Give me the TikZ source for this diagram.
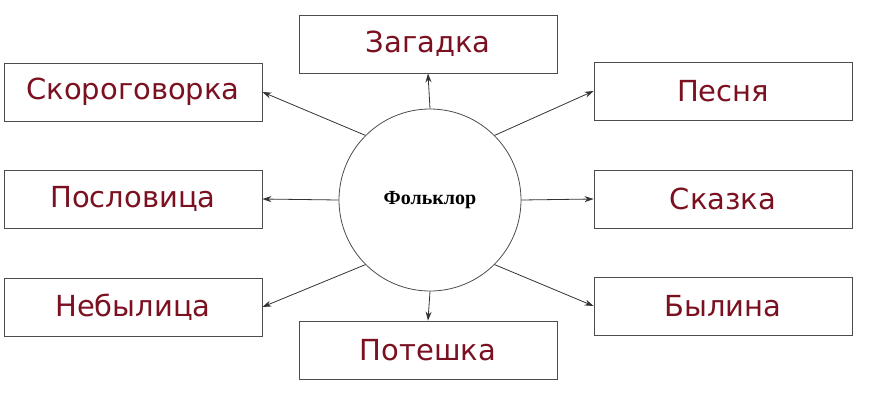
\documentclass[tikz,border=0pt]{standalone}
\usepackage{fontspec}
\setmainfont{DejaVu Sans}
\newfontfamily\serifb{Liberation Serif}
\usetikzlibrary{arrows.meta}
\definecolor{tred}{HTML}{7A1020}
\begin{document}
\begin{tikzpicture}[x=1pt,y=-1pt,
  box/.style={draw=black!70,line width=0.8pt,minimum width=258pt,minimum height=58pt,inner sep=0pt,text=tred,font=\fontsize{29}{32}\selectfont},
  arr/.style={-{Stealth[length=9pt,width=6pt]},line width=0.8pt,draw=black!80}]
\useasboundingbox (0,0) rectangle (878,408);
\node[draw=black!70,line width=0.8pt,circle,minimum size=182pt,inner sep=0pt,font=\serifb\bfseries\fontsize{20}{24}\selectfont] (c) at (430,200) {Фольклор};
\node[box] (z) at (428,44) {Загадка};
\node[box] (s) at (133,92) {Скороговорка};
\node[box] (p) at (723,91) {Песня};
\node[box] (po) at (133,199) {Пословица};
\node[box] (sk) at (723,199) {Сказка};
\node[box] (n) at (133,307) {Небылица};
\node[box] (b) at (723,306) {Былина};
\node[box] (pt) at (428,350) {Потешка};
\draw[arr] (c.north) -- (z.south);
\draw[arr] (c.south) -- (pt.north);
\draw[arr] (c.west) -- (po.east);
\draw[arr] (c.east) -- (sk.west);
\draw[arr] (c.135) -- (s.east);
\draw[arr] (c.45) -- (p.west);
\draw[arr] (c.225) -- (n.east);
\draw[arr] (c.-45) -- (b.west);
\end{tikzpicture}
\end{document}
